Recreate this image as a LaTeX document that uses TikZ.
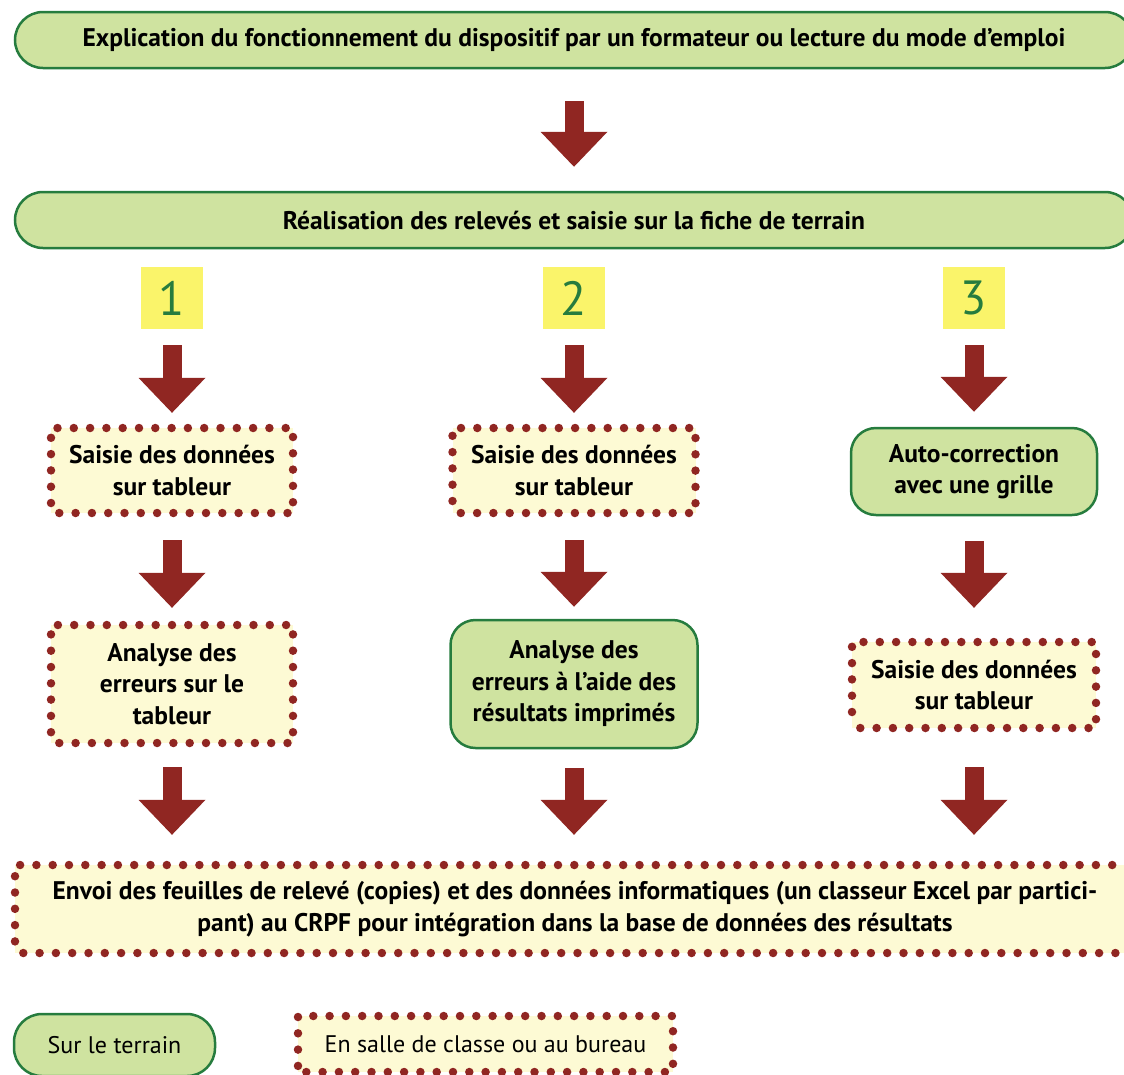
\documentclass[tikz,border=0pt]{standalone}
\usepackage{fontspec}
\setmainfont{PT Sans}
\usetikzlibrary{arrows.meta}
\definecolor{vertfond}{RGB}{207,227,160}
\definecolor{vertbord}{RGB}{38,124,62}
\definecolor{jaune}{RGB}{250,244,106}
\definecolor{creme}{RGB}{253,250,212}
\definecolor{brique}{RGB}{144,38,34}
\newcommand\taille{\fontsize{25.5}{31.5}\selectfont}
\newcommand\legtaille{\fontsize{24}{30}\selectfont}
\tikzset{
  terrain/.style={draw=vertbord, line width=2.5pt, fill=vertfond, rounded corners=#1, align=center, inner sep=0pt, font=\bfseries\taille},
  terrain/.default=25pt,
  salle/.style={fill=creme, align=center, inner sep=0pt, font=\bfseries\taille,
    postaction={draw=brique, line width=8.5pt, line cap=round, dash pattern=on 0pt off 16.3pt, dash phase=8pt}},
  numbox/.style={fill=jaune, minimum size=62pt, inner sep=0pt, text=vertbord, font=\fontsize{48}{48}\selectfont},
  barrow/.style={draw=brique, line width=19pt, -{Triangle[width=67pt, length=35pt, line width=0pt 0]}}
}
\begin{document}
\begin{tikzpicture}[x=1pt, y=-1pt]
  \useasboundingbox (0,0) rectangle (1124,1074);
  % bandeaux
  \node[terrain=28pt, minimum width=1118pt, minimum height=56pt] (top) at (574,40)
    {Explication du fonctionnement du dispositif par un formateur ou lecture du mode d’emploi};
  \node[terrain=28pt, minimum width=1118pt, minimum height=56pt] (real) at (574,220)
    {Réalisation des relevés et saisie sur la fiche de terrain};
  % numeros
  \foreach \n/\x in {1/172, 2/574, 3/974}
    \node[numbox] (n\n) at (\x,298) {\n};
  % colonnes
  \node[salle, minimum width=242pt, minimum height=85pt] (s1) at (172,470.5) {Saisie des données\\sur tableur};
  \node[salle, minimum width=243pt, minimum height=85pt] (s2) at (574,470.5) {Saisie des données\\sur tableur};
  \node[terrain, minimum width=246pt, minimum height=87pt] (auto) at (974,471.5) {Auto-correction\\avec une grille};
  \node[salle, minimum width=242pt, minimum height=118pt] (a1) at (172,684) {Analyse des\\erreurs sur le\\tableur};
  \node[terrain, minimum width=247pt, minimum height=128pt] (a2) at (574,684) {Analyse des\\erreurs à l’aide des\\résultats imprimés};
  \node[salle, minimum width=244pt, minimum height=86pt] (s3) at (974,685) {Saisie des données\\sur tableur};
  % envoi
  \node[salle, minimum width=1120pt, minimum height=88pt] (big) at (575,909)
    {Envoi des feuilles de relevé (copies) et des données informatiques (un classeur Excel par partici-\\pant) au CRPF pour intégration dans la base de données des résultats};
  % fleches
  \foreach \a/\b/\s/\e in {top/real/32/24, n1/s1/16/15, n2/s2/16/15, n3/auto/16/15, s1/a1/27/17, s2/a2/27/12, auto/s3/25/34}
    \draw[barrow, shorten <=\s pt, shorten >=\e pt] (\a.south) -- (\b.north);
  \foreach \a/\s in {a1/24, a2/19, s3/39}
    \draw[barrow, shorten <=\s pt, shorten >=30pt] (\a.south) -- (\a.south |- big.north);
  % legende
  \node[terrain=28pt, minimum width=201pt, minimum height=62pt, font=\legtaille] (legt) at (114.5,1045) {Sur le terrain};
  \node[salle, minimum width=375pt, minimum height=56pt, font=\legtaille] (legs) at (485.5,1044) {En salle de classe ou au bureau};
\end{tikzpicture}
\end{document}
